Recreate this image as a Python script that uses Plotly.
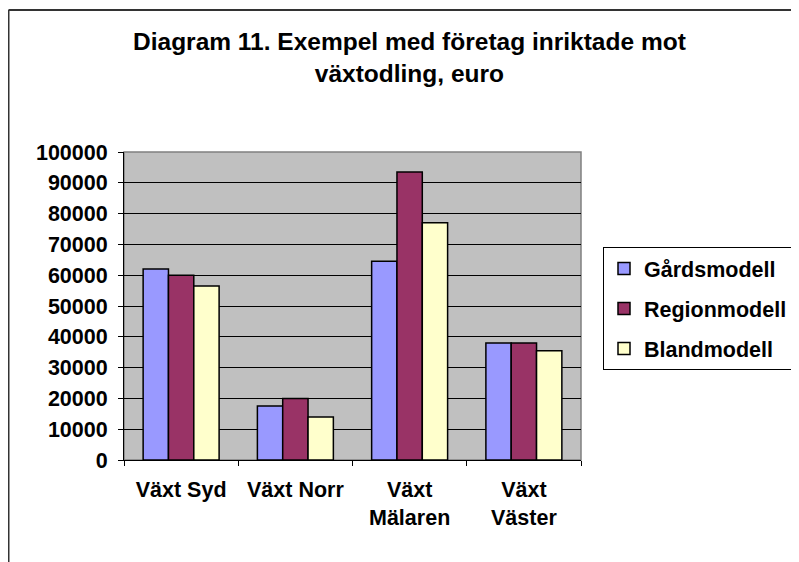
import plotly.graph_objects as go

categories = ["Växt Syd", "Växt Norr", "Växt<br>Mälaren", "Växt<br>Väster"]
gardsmodell = [62000, 17500, 64500, 38000]
regionmodell = [60000, 20000, 93500, 38000]
blandmodell = [56500, 14000, 77000, 35500]
series_names = ["Gårdsmodell", "Regionmodell", "Blandmodell"]
colors = ["#9999FF", "#993366", "#FFFFCC"]
y_ticks = [0, 10000, 20000, 30000, 40000, 50000, 60000, 70000, 80000, 90000, 100000]

OFF = 8  # browser body margin
W, H = 799, 562
L, R, T, B = 124 - OFF, 581 - OFF, 152 - OFF, 460 - OFF
pw, ph = R - L, B - T

def px_x(x):
    return (x - OFF - L) / pw

def px_y(y):
    return (B - (y - OFF)) / ph

FONT = "Liberation Sans, Arial, sans-serif"

fig = go.Figure()
for i, (name, vals) in enumerate(zip(series_names, [gardsmodell, regionmodell, blandmodell])):
    fig.add_trace(go.Bar(
        x=categories, y=vals, name=name, legendgroup=name,
        marker=dict(color=colors[i], line=dict(color="black", width=1.5)),
    ))

fig.update_layout(
    width=W, height=H,
    margin=dict(l=L, r=W - R, t=T, b=H - B),
    paper_bgcolor="white",
    plot_bgcolor="#C0C0C0",
    barmode="group",
    bargap=0.335,
    bargroupgap=0,
    font=dict(family=FONT, size=21, color="black", weight="bold"),
    annotations=[dict(
        text="Diagram 11. Exempel med företag inriktade mot<br>växtodling, euro",
        x=px_x(409), xref="paper", xanchor="center",
        y=px_y(26), yref="paper", yanchor="top",
        showarrow=False, align="center",
        font=dict(family=FONT, size=24.5, color="black", weight="bold"),
    )],
    legend=dict(
        x=px_x(603), y=px_y(247), xanchor="left", yanchor="top",
        xref="paper", yref="paper",
        bordercolor="black", borderwidth=1, bgcolor="white",
        font=dict(family=FONT, size=21.5, color="black", weight="bold"),
        traceorder="grouped", tracegroupgap=9,
    ),
    xaxis=dict(
        showline=True, linecolor="black", linewidth=1,
        ticks="outside", tickson="boundaries", ticklen=5, tickcolor="black",
        showgrid=False, tickfont=dict(size=21.5), ticklabelstandoff=10,
    ),
    yaxis=dict(
        range=[0, 100000], tickvals=y_ticks, ticktext=[str(v) for v in y_ticks],
        showline=True, linecolor="black", linewidth=1,
        ticks="outside", ticklen=5, tickcolor="black",
        showgrid=True, gridcolor="black", gridwidth=1,
        zeroline=False, tickfont=dict(size=21.5), ticklabelstandoff=6,
    ),
    shapes=[
        dict(type="rect", xref="paper", yref="paper", x0=0, y0=0, x1=1, y1=1,
             line=dict(color="#808080", width=1.5), layer="below"),
        dict(type="line", xref="paper", yref="paper",
             x0=px_x(8.5), y0=px_y(600), x1=px_x(8.5), y1=px_y(10),
             line=dict(color="#333333", width=2)),
        dict(type="line", xref="paper", yref="paper",
             x0=px_x(8.5), y0=px_y(10), x1=px_x(850), y1=px_y(10),
             line=dict(color="#333333", width=2)),
    ],
)

fig.write_html("out.html")
